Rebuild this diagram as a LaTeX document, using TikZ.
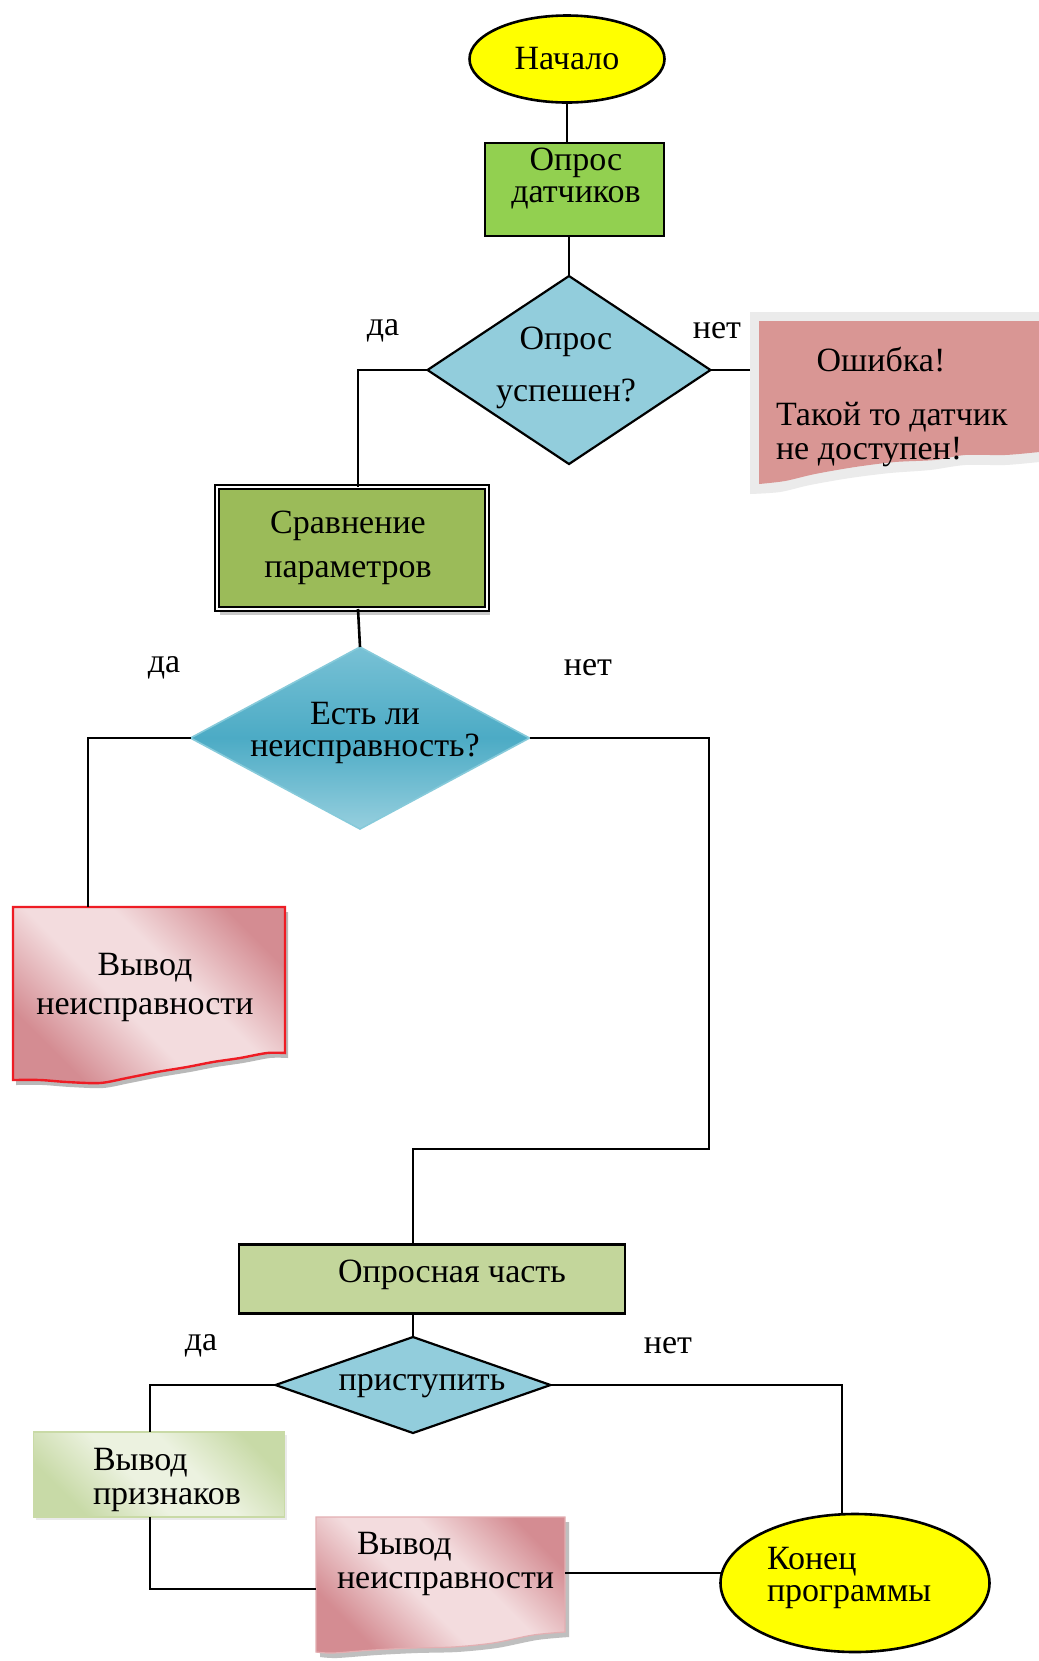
\documentclass[tikz,border=0pt]{standalone}
\usepackage{fontspec}
\setmainfont{Liberation Serif}
\usetikzlibrary{shapes.geometric,shadows}
\definecolor{yel}{HTML}{FFFF00}
\definecolor{grnA}{HTML}{92D050}
\definecolor{diaA}{HTML}{92CDDC}
\definecolor{errpink}{HTML}{D99694}
\definecolor{errframe}{HTML}{EBEBEB}
\definecolor{olive}{HTML}{9BBB59}
\definecolor{oliveL}{HTML}{C3D69B}
\definecolor{tealT}{HTML}{78C1D5}
\definecolor{tealM}{HTML}{4CABC5}
\definecolor{tealB}{HTML}{96CFDE}
\definecolor{tealE}{HTML}{86CADA}
\definecolor{pinkD}{HTML}{D48C92}
\definecolor{pinkL}{HTML}{F3DCDE}
\definecolor{pinkE}{HTML}{E3AFB2}
\definecolor{redE}{HTML}{EE1C24}
\definecolor{grnD}{HTML}{C8DAA7}
\definecolor{grnW}{HTML}{ECF2E0}
\definecolor{grnE}{HTML}{C9DAA6}
\pgfdeclareverticalshading{pinkwave}{100bp}{color(0bp)=(pinkD); color(26bp)=(pinkD); color(44bp)=(pinkL); color(58bp)=(pinkL); color(76bp)=(pinkD); color(100bp)=(pinkD)}
\pgfdeclareverticalshading{greenwave}{100bp}{color(0bp)=(grnD); color(26bp)=(grnD); color(44bp)=(grnW); color(58bp)=(grnW); color(76bp)=(grnD); color(100bp)=(grnD)}
\begin{document}
\begin{tikzpicture}[x=0.5pt,y=-0.5pt,
  every node/.style={inner sep=0pt, outer sep=0pt},
  txt/.style={font=\fontsize{17}{17}\selectfont, align=center},
  conn/.style={line width=1.3pt},
  termnode/.style={ellipse, draw=black, line width=1.3pt, fill=yel},
  boxnode/.style={rectangle, draw=black, line width=1.2pt},
  dianode/.style={diamond, draw=black, line width=1.1pt, fill=diaA},
  hidden/.style={rectangle}
]
\fill[white] (0,0) rectangle (1039,1661);
\useasboundingbox (0,0) rectangle (1039,1661);

% ---------- shapes ----------
\node[termnode, minimum width=97.5pt, minimum height=43.5pt, font=\fontsize{17}{17}\selectfont] (start) at (567,59) {Начало};
\node[boxnode, fill=grnA, minimum width=89.5pt, minimum height=46.5pt] (sens) at (574.5,189.5) {};
\node[dianode, minimum width=141.5pt, minimum height=94pt] (d1) at (569,370) {};

% error box (torn paper)
\fill[errframe] (750,312) -- (1039,312) -- (1039,462)
  -- plot[smooth] coordinates {(1039,462) (1005,465) (965,465) (930,470) (890,473) (850,478) (810,485) (780,492) (750,494)} -- cycle;
\fill[errpink] (759,321) -- (1039,321) -- (1039,452)
  -- plot[smooth] coordinates {(1039,452) (1005,455) (965,455) (935,460) (895,462) (855,467) (815,474) (785,481) (759,484)} -- cycle;
\node[hidden, minimum width=144.5pt, minimum height=79pt] (err) at (894.5,391) {};

\node[boxnode, fill=olive, double=white, double distance=1.3pt, line width=0.9pt,
  drop shadow={shadow xshift=1.5pt, shadow yshift=-3pt, fill=gray!70, opacity=.6},
  minimum width=135pt, minimum height=61pt] (cmp) at (352,548) {};

\node[diamond, draw=tealE, line width=0.8pt, top color=tealT, bottom color=tealB, middle color=tealM,
  minimum width=169.5pt, minimum height=91pt] (d2) at (360,738) {};

% fault output 1 (torn paper, red edge)
\begin{scope}[xshift=1.5pt, yshift=-2.5pt]
\fill[gray!55] (13,907) -- (285,907) -- (285,1053)
  -- plot[smooth] coordinates {(285,1053) (267,1053) (240,1058) (213,1062) (187,1067) (157,1072) (127,1078) (100,1083) (67,1082) (40,1080) (13,1080)} -- cycle;
\end{scope}
\path[draw=redE, line width=1.2pt, shading=pinkwave, shading angle=-45]
  (13,907) -- (285,907) -- (285,1053)
  -- plot[smooth] coordinates {(285,1053) (267,1053) (240,1058) (213,1062) (187,1067) (157,1072) (127,1078) (100,1083) (67,1082) (40,1080) (13,1080)} -- cycle;
\node[hidden, minimum width=136pt, minimum height=78pt] (flt1) at (149,985) {};

\node[boxnode, fill=oliveL, minimum width=193pt, minimum height=34.5pt] (opq) at (432,1279) {};
\node[dianode, minimum width=137.5pt, minimum height=48pt] (d3) at (413,1385) {};

\node[rectangle, draw=grnE, line width=0.8pt, shading=greenwave, shading angle=-45,
  drop shadow={shadow xshift=1pt, shadow yshift=-1.5pt, fill=gray!40, opacity=.4},
  minimum width=125.5pt, minimum height=42.5pt] (pr) at (159,1474.5) {};

% fault output 2 (torn paper)
\begin{scope}[xshift=2pt, yshift=-2.5pt]
\fill[gray!50] (316,1517) -- (565,1517) -- (565,1632)
  -- plot[smooth] coordinates {(565,1632) (533,1635) (493,1643) (453,1647) (413,1648) (373,1650) (333,1653) (316,1652)} -- cycle;
\end{scope}
\path[draw=pinkE, line width=0.6pt, shading=pinkwave, shading angle=-45]
  (316,1517) -- (565,1517) -- (565,1632)
  -- plot[smooth] coordinates {(565,1632) (533,1635) (493,1643) (453,1647) (413,1648) (373,1650) (333,1653) (316,1652)} -- cycle;
\node[hidden, minimum width=124.5pt, minimum height=56pt] (flt2) at (440.5,1573) {};

\node[termnode, minimum width=134.5pt, minimum height=69pt] (end) at (855,1583) {};

% ---------- connectors ----------
\coordinate (k1) at (358,370);
\coordinate (k2) at (88,738);
\coordinate (k3) at (709,1149);
\coordinate (k4) at (413,1149);
\coordinate (k5) at (150,1385);
\coordinate (k6) at (150,1589);
\coordinate (k7) at (842,1385);

\draw[conn] (start.south) -- (start.south |- sens.north);
\draw[conn] (d1.north |- sens.south) -- (d1.north);
\draw[conn] (d1.east) -- (d1.east -| err.west);
\draw[conn] (d1.west) -- (k1) -- (k1 |- cmp.north);
\draw[conn] (k1 |- cmp.south) -- (d2.north);
\draw[conn] (d2.west) -- (k2) -- (k2 |- flt1.north);
\draw[conn] (d2.east) -| (k3) -- (k4) -- (k4 |- opq.north);
\draw[conn] (k4 |- opq.south) -- (d3.north);
\draw[conn] (d3.west) -- (k5) -- (k5 |- pr.north);
\draw[conn] (k5 |- pr.south) -- (k6) -- (k6 -| flt2.west);
\draw[conn] (d3.east) -- (k7) -- (k7 |- end.north);
\draw[conn] (flt2.east) -- (flt2.east -| end.west);

% ---------- texts ----------
\node[txt] (t-sens) at (576,179) {Опрос\\[-1pt]датчиков};
\node[txt] (t-d1) at (566,368) {Опрос\\[9pt]успешен?};
\node[txt] (t-err1) at (881,360) {Ошибка!};
\node[txt, align=left, anchor=west] (t-err2) at (776,435) {Такой то датчик\\не доступен!};
\node[txt] (t-cmp) at (348,548) {Сравнение\\[5pt]параметров};
\node[txt] (t-d2) at (365,733) {Есть ли\\[-1pt]неисправность?};
\node[txt] (t-flt1) at (145,987) {Вывод\\[2.5pt]неисправности};
\node[txt] (t-opq) at (452,1275) {Опросная часть};
\node[txt] (t-d3) at (422,1386) {приступить};
\node[txt, align=left, anchor=west] (t-pr) at (93,1480) {Вывод\\признаков};
\node[txt, align=left, anchor=west] (t-flt2) at (337,1564) {\hspace*{10pt}Вывод\\неисправности};
\node[txt, align=left, anchor=west] (t-end) at (767,1578) {Конец\\[-1pt]программы};

\node[txt] (l-da1) at (383,331) {да};
\node[txt] (l-net1) at (717,331) {нет};
\node[txt] (l-da2) at (164,668) {да};
\node[txt] (l-net2) at (588,668) {нет};
\node[txt] (l-da3) at (201,1346) {да};
\node[txt] (l-net3) at (668,1346) {нет};
\end{tikzpicture}
\end{document}
